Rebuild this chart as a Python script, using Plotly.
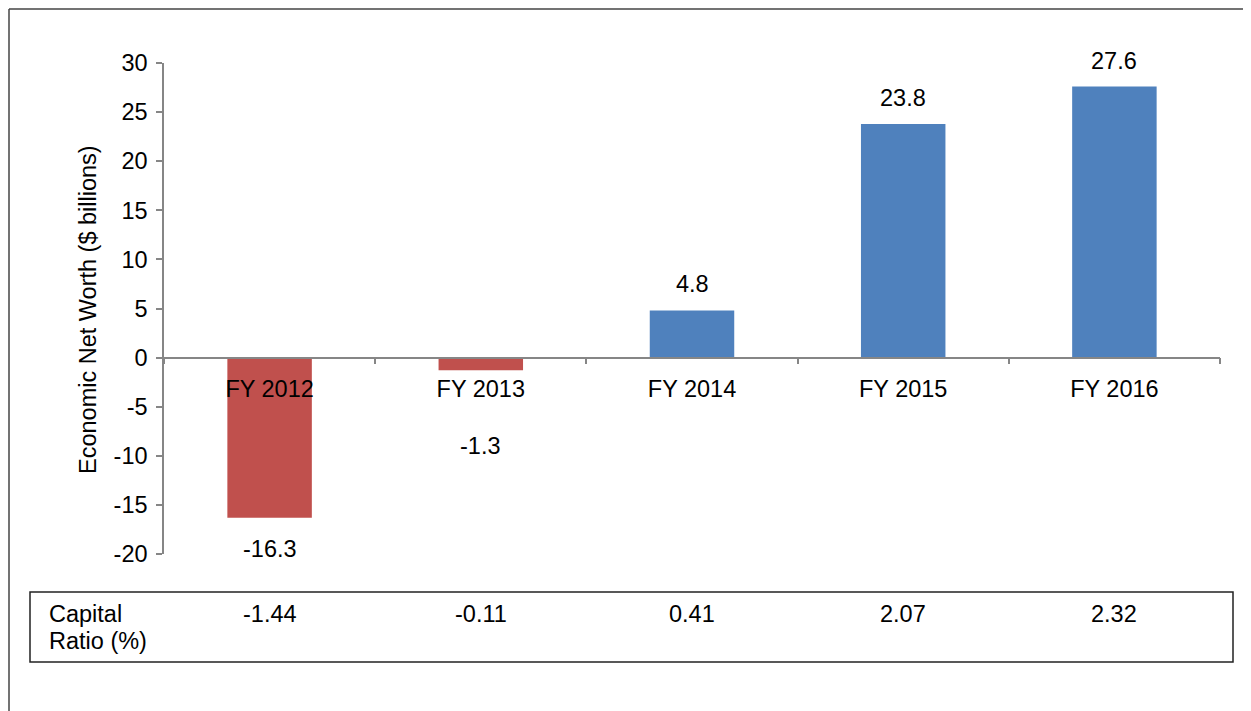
import plotly.graph_objects as go

categories = ["FY 2012", "FY 2013", "FY 2014", "FY 2015", "FY 2016"]
net_worth = [-16.3, -1.3, 4.8, 23.8, 27.6]
capital_ratio = ["-1.44", "-0.11", "0.41", "2.07", "2.32"]
y_ticks = [-20, -15, -10, -5, 0, 5, 10, 15, 20, 25, 30]

RED = "#C0504D"
BLUE = "#4F81BD"
AXIS = "#868686"
FONT = "Liberation Sans, Arial, sans-serif"
FS = 23.5

OFF = 8  # page body margin
W, H = 1251, 711
L, T = 164 - OFF, 63 - OFF
R = W - (1220 - OFF)
B = H - (554 - OFF)
PW, PH = W - L - R, H - T - B

def px_x(px):
    return (px - OFF - L) / PW

def px_y(py):
    return (H - B - (py - OFF)) / PH

colors = [RED if v < 0 else BLUE for v in net_worth]

fig = go.Figure()
fig.add_trace(go.Bar(
    x=categories, y=net_worth, marker=dict(color=colors, line=dict(width=0)),
    width=0.4, showlegend=False, hoverinfo="x+y",
))

# data labels (pixel offsets are style only)
label_shift = [-31, -76, 26, 26, 26]
for c, v, s in zip(categories, net_worth, label_shift):
    fig.add_annotation(x=c, y=v, xref="x", yref="y", text=f"{v:.1f}",
                       showarrow=False, yshift=s, xanchor="center", yanchor="middle",
                       font=dict(family=FONT, size=FS, color="black"))

# y-axis title
fig.add_annotation(x=px_x(88), y=px_y(310), xref="paper", yref="paper",
                   text="Economic Net Worth ($ billions)", textangle=-90,
                   xanchor="center", yanchor="middle",
                   showarrow=False, font=dict(family=FONT, size=FS, color="black"))

# capital ratio table
fig.add_shape(type="rect", xref="paper", yref="paper",
              x0=px_x(30), x1=px_x(1233), y0=px_y(662), y1=px_y(592),
              line=dict(color="#222222", width=1.5), fillcolor="rgba(0,0,0,0)")
for txt, yy in [("Capital", 614), ("Ratio (%)", 641)]:
    fig.add_annotation(x=px_x(47), y=px_y(yy), xref="paper", yref="paper",
                       text=txt, xanchor="left", yanchor="middle", showarrow=False,
                       font=dict(family=FONT, size=FS, color="black"))
for c, r in zip(categories, capital_ratio):
    fig.add_annotation(x=c, y=px_y(614), xref="x", yref="paper", text=r,
                       showarrow=False, xanchor="center", yanchor="middle",
                       font=dict(family=FONT, size=FS, color="black"))

# outer frame (left and top edges)
fig.add_shape(type="line", xref="paper", yref="paper",
              x0=px_x(9), x1=px_x(9), y0=px_y(730), y1=px_y(9),
              line=dict(color="#444444", width=1.5))
fig.add_shape(type="line", xref="paper", yref="paper",
              x0=px_x(9), x1=px_x(1270), y0=px_y(9), y1=px_y(9),
              line=dict(color="#444444", width=1.5))

fig.update_layout(
    width=W, height=H,
    margin=dict(l=L, r=R, t=T, b=B),
    paper_bgcolor="white", plot_bgcolor="white",
    font=dict(family=FONT, size=FS, color="black"),
    bargap=0.6,
    xaxis=dict(
        type="category", range=[-0.5, 4.5], anchor="free",
        position=(0 - y_ticks[0]) / (y_ticks[-1] - y_ticks[0]),
        showline=True, linecolor=AXIS, linewidth=1.5,
        ticks="outside", tickson="boundaries", ticklen=6, tickcolor=AXIS,
        tickwidth=1.5, ticklabelstandoff=10,
        showgrid=False, zeroline=False,
        tickfont=dict(family=FONT, size=FS, color="black"),
    ),
    yaxis=dict(
        range=[y_ticks[0], y_ticks[-1]], tickvals=y_ticks,
        ticktext=[str(t) for t in y_ticks],
        showline=True, linecolor=AXIS, linewidth=1.5,
        ticks="outside", ticklen=6, tickcolor=AXIS, tickwidth=1.5,
        ticklabelstandoff=4,
        showgrid=False, zeroline=False,
        tickfont=dict(family=FONT, size=FS, color="black"),
    ),
)

fig.write_html("out.html")
